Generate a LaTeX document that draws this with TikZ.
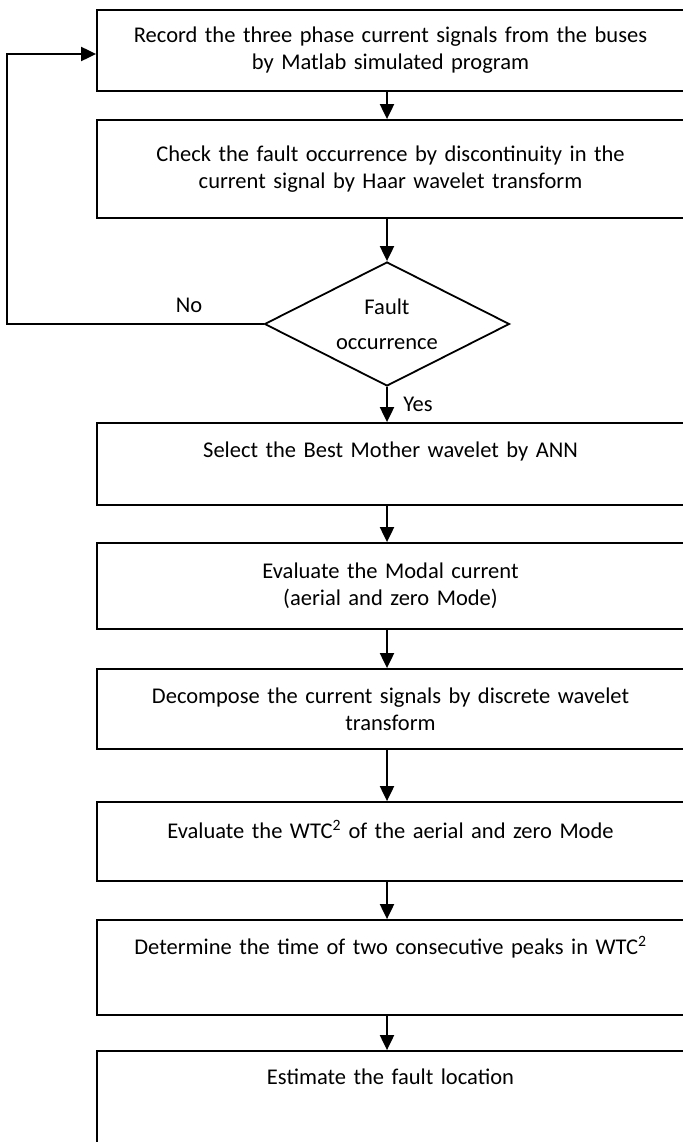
\documentclass[tikz,border=0pt]{standalone}
\usepackage{fontspec}
\setmainfont{Carlito}
\usetikzlibrary{arrows.meta,shapes.geometric}

\begin{document}
\begin{tikzpicture}[x=1pt,y=-1pt,
    stepbox/.style={draw, line width=1.8pt, minimum width=587pt, text width=570pt,
      align=center, inner sep=2pt, font=\fontsize{22.5}{27}\selectfont},
    decide/.style={draw, diamond, aspect=2, inner sep=0pt, line width=1.8pt,
      minimum width=245pt, minimum height=124pt, align=center,
      font=\fontsize{22.5}{27}\selectfont},
    flow/.style={line width=2pt, -{Triangle[length=15pt,width=14pt]}},
    tag/.style={inner sep=0pt, font=\fontsize{22.5}{27}\selectfont}]
  \useasboundingbox (0,0) rectangle (682,1142);

  %%%%% boxes %%%%%
  \node[stepbox, minimum height=81pt] (rec) at (390.5,50.5)
    {Record the three phase current signals from the buses\\by Matlab simulated program};
  \node[stepbox, minimum height=98pt] (chk) at (390.5,169)
    {Check the fault occurrence by discontinuity in the\\current signal by Haar wavelet transform};
  \node[decide] (flt) at (387,324) {Fault\\[8pt]occurrence};
  \node[stepbox, minimum height=82pt, text depth=28pt] (sel) at (390.5,464)
    {Select the Best Mother wavelet by ANN};
  \node[stepbox, minimum height=86pt] (mod) at (390.5,586)
    {Evaluate the Modal current\\(aerial and zero Mode)};
  \node[stepbox, minimum height=80pt] (dec) at (390.5,709)
    {Decompose the current signals by discrete wavelet\\transform};
  \node[stepbox, minimum height=79pt, text depth=24pt] (wtc) at (390.5,841.5)
    {Evaluate the WTC\textsuperscript{2} of the aerial and zero Mode};
  \node[stepbox, minimum height=95pt, text depth=44pt] (pks) at (390.5,967.5)
    {Determine the time of two consecutive peaks in WTC\textsuperscript{2}};
  \node[stepbox, minimum height=99pt, text depth=48pt] (loc) at (390.5,1100.5)
    {Estimate the fault location};

  \node[tag] (no) at (189,305) {No};
  \node[tag] (yes) at (418,404) {Yes};
  \coordinate (back) at (7,0);

  %%%%% arrows %%%%%
  \draw[flow] (rec.south -| flt.north) -- (chk.north -| flt.north);
  \draw[flow] (chk.south -| flt.north) -- (flt.north);
  \draw[flow] (flt.south) -- (sel.north -| flt.south);
  \draw[flow] (sel.south -| flt.south) -- (mod.north -| flt.south);
  \draw[flow] (mod.south -| flt.south) -- (dec.north -| flt.south);
  \draw[flow] (dec.south -| flt.south) -- (wtc.north -| flt.south);
  \draw[flow] (wtc.south -| flt.south) -- (pks.north -| flt.south);
  \draw[flow] (pks.south -| flt.south) -- (loc.north -| flt.south);
  \draw[flow] (flt.west) -- (back |- flt.west) |- ([yshift=-3.5pt]rec.west);
\end{tikzpicture}
\end{document}
